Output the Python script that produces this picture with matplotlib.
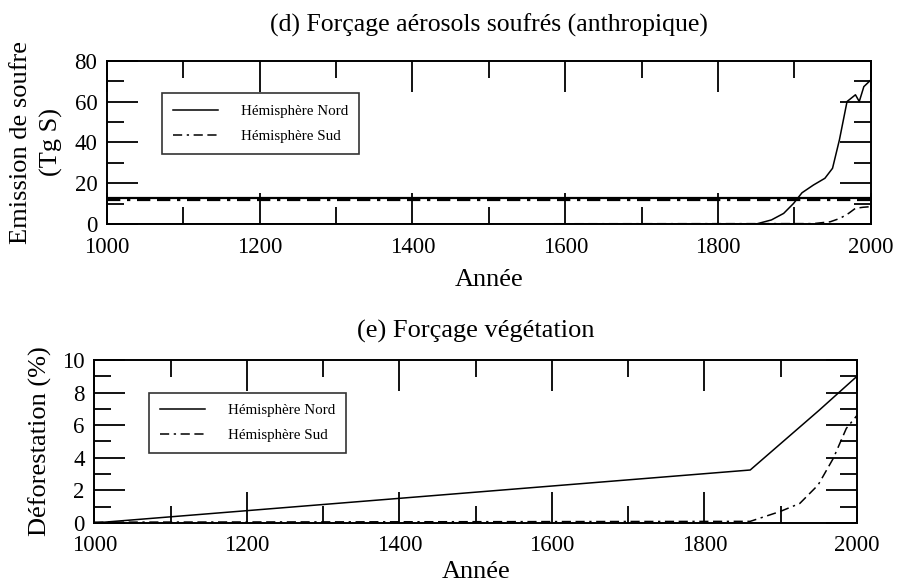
import matplotlib
matplotlib.use("Agg")
import matplotlib.pyplot as plt
from matplotlib.ticker import MultipleLocator

plt.rcParams["font.family"] = ["Liberation Serif", "DejaVu Serif"]

# (d) sulphur emissions, Tg S
years_s_nord = [1000, 1850, 1870, 1886, 1899, 1910, 1925, 1940, 1950, 1959,
                1969, 1980, 1985, 1991, 2000]
soufre_nord = [0, 0, 2, 5.2, 10.1, 15.3, 19.1, 22.4, 27.3, 41.2,
               60, 63.3, 60, 67.3, 70.5]
years_s_sud = [1000, 1925, 1947, 1960, 1971, 1980, 1990, 2000]
soufre_sud = [0, 0.2, 1.1, 2.8, 5.2, 7.7, 8.2, 8.5]
fond_years = [1000, 2000]
fond_nord = [12.7, 12.7]
fond_sud = [11.7, 11.7]

# (e) deforestation, %
years_v_nord = [1000, 1860, 1950, 2000]
defor_nord = [0, 3.25, 6.9, 9.0]
years_v_sud = [1000, 1860, 1899, 1925, 1949, 1969, 1986, 2000]
defor_sud = [0.05, 0.1, 0.7, 1.2, 2.33, 3.97, 5.8, 6.6]

dashdot = (0, (6, 3, 1.5, 3, 6, 3))
lw = 1.1
fs = 19

fig = plt.figure(figsize=(8.97, 5.82), dpi=100)
ax1 = fig.add_axes([0.1193, 0.6151, 0.8514, 0.2806])
ax2 = fig.add_axes([0.1051, 0.1014, 0.8503, 0.2801])


def style_axis(ax):
    ax.set_xlim(1000, 2000)
    ax.xaxis.set_major_locator(MultipleLocator(200))
    ax.xaxis.set_minor_locator(MultipleLocator(100))
    ax.tick_params(which="both", direction="in", top=True, right=True,
                   labelsize=16.5, width=1.3)
    ax.tick_params(axis="x", pad=9)
    ax.tick_params(axis="y", pad=7)
    ax.tick_params(which="major", length=22)
    ax.tick_params(which="minor", length=12)
    for sp in ax.spines.values():
        sp.set_linewidth(1.4)


def add_legend(ax):
    leg = ax.legend(loc="upper left", bbox_to_anchor=(0.072, 0.80),
                    fontsize=10.8, frameon=True, fancybox=False,
                    edgecolor="black", handlelength=3.0, handletextpad=1.5,
                    borderpad=0.75, labelspacing=0.75, borderaxespad=0)
    leg.get_frame().set_linewidth(1.2)


# top panel
ax1.plot(years_s_nord, soufre_nord, color="black", lw=lw,
         label="Hémisphère Nord")
ax1.plot(years_s_sud, soufre_sud, color="black", lw=lw, linestyle=dashdot,
         label="Hémisphère Sud")
ax1.plot(fond_years, fond_nord, color="black", lw=1.6)
ax1.plot(fond_years, fond_sud, color="black", lw=1.6, linestyle=dashdot)
style_axis(ax1)
ax1.set_ylim(0, 80)
ax1.yaxis.set_major_locator(MultipleLocator(20))
ax1.yaxis.set_minor_locator(MultipleLocator(10))
ax1.set_title("(d) Forçage aérosols soufrés (anthropique)", fontsize=18.5,
              pad=21)
ax1.set_xlabel("Année", fontsize=fs, labelpad=8)
ax1.set_ylabel("Emission de soufre\n(Tg S)", fontsize=fs, labelpad=8,
               linespacing=1.45)
add_legend(ax1)

# bottom panel
ax2.plot(years_v_nord, defor_nord, color="black", lw=lw,
         label="Hémisphère Nord")
ax2.plot(years_v_sud, defor_sud, color="black", lw=lw, linestyle=dashdot,
         label="Hémisphère Sud")
style_axis(ax2)
ax2.set_ylim(0, 10)
ax2.yaxis.set_major_locator(MultipleLocator(2))
ax2.yaxis.set_minor_locator(MultipleLocator(1))
ax2.set_title("(e) Forçage végétation", fontsize=fs, pad=16)
ax2.set_xlabel("Année", fontsize=fs, labelpad=3)
ax2.set_ylabel("Déforestation (%)", fontsize=fs, labelpad=7)
add_legend(ax2)

fig.savefig("out.png", dpi=100)
